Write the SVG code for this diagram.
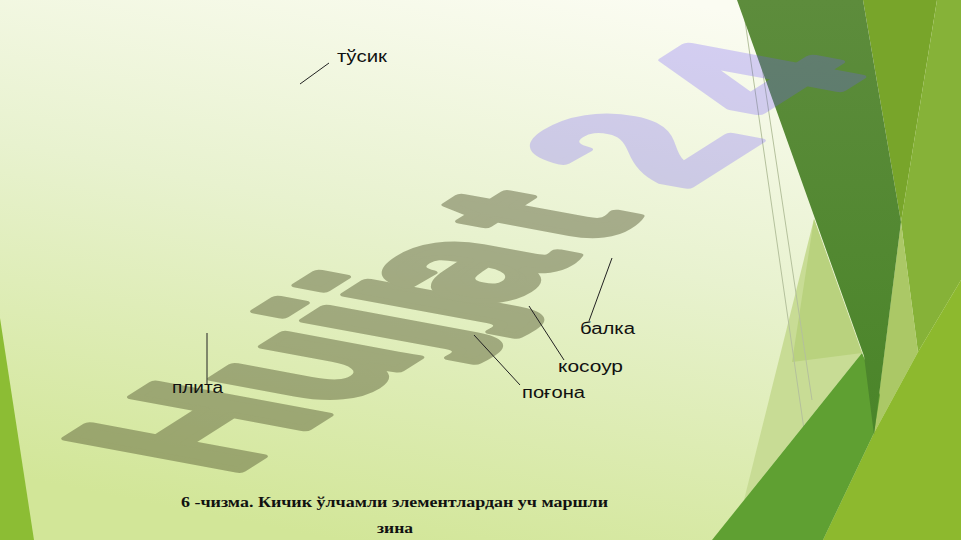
<svg xmlns="http://www.w3.org/2000/svg" width="961" height="540" viewBox="0 0 961 540">
  <defs>
    <linearGradient id="bg" x1="0.7" y1="0" x2="0.35" y2="1">
      <stop offset="0" stop-color="#fbfcf2"/>
      <stop offset="0.45" stop-color="#e8f2cf"/>
      <stop offset="1" stop-color="#d2e698"/>
    </linearGradient>
    <linearGradient id="dark" x1="0" y1="0" x2="0" y2="1">
      <stop offset="0" stop-color="#5d8c3c"/>
      <stop offset="1" stop-color="#4a8529"/>
    </linearGradient>
  </defs>
  <style>
    .lbl { font-family: "Liberation Sans", Arial, sans-serif; font-size: 16px; fill: #111; }
    .cap { font-family: "Liberation Serif", "Times New Roman", serif; font-size: 15px; font-weight: bold; fill: #111; }
    .lead { stroke: #222; stroke-width: 1; fill: none; }
    .thin { stroke: #b4c09c; stroke-width: 1; fill: none; }
    .wm { font-family: "Liberation Sans", Arial, sans-serif; font-size: 100px; font-weight: bold; stroke-width: 5; stroke-linejoin: round; }
    .wm1 { fill: #535731; stroke: #535731; opacity: 0.45; }
    .wm2 { fill: #7258fe; stroke: #7258fe; opacity: 0.27; }
  </style>

  <!-- background -->
  <rect width="961" height="540" fill="url(#bg)"/>

  <!-- decorative facets -->
  <g id="decor">
    <polygon points="0,318 34,540 0,540" fill="#8cbd34"/>
    <polygon points="814,219 862,353 744,500" fill="#c8dc95"/>
    <polygon points="814,219 862,353 792,362" fill="#b9d27e"/>
    <line class="thin" x1="742" y1="0" x2="820" y2="540"/>
    <line class="thin" x1="752" y1="0" x2="812" y2="400"/>
    <polygon points="863,0 937,0 901,222" fill="#78a52a"/>
    <polygon points="937,0 961,0 961,280 918,352 901,222" fill="#86b238"/>
    <polygon points="901,222 918,352 874,433" fill="#abc866"/>
    <polygon points="961,280 961,540 823,540 874,433 918,352" fill="#8db92e"/>
    <polygon points="712,540 823,540 874,433 880,395 862,353" fill="#5fa032"/>
    <polygon points="737,0 863,0 901,222 874,435 864,356" fill="url(#dark)"/>
  </g>

  <!-- watermark -->
  <g id="watermark" transform="matrix(1.481,-0.94,2.486,0.461,229.6,476.6)">
    <text class="wm wm1" x="0" y="0">Hujj<tspan dx="-10">a</tspan><tspan dx="10">t</tspan></text>
    <text class="wm wm2" x="305.6" y="0">2<tspan dx="18">4</tspan></text>
  </g>

  <!-- connectors -->
  <g id="connectors">
    <line class="lead" x1="300" y1="84" x2="329" y2="63"/>
    <line class="lead" x1="612" y1="258" x2="589" y2="321"/>
    <line class="lead" x1="529" y1="306" x2="564" y2="360"/>
    <line class="lead" x1="474" y1="335" x2="520" y2="385"/>
    <line class="lead" x1="207" y1="333" x2="207" y2="384"/>
  </g>

  <!-- labels -->
  <g id="node-tusik"><text class="lbl" x="337" y="62" textLength="50" lengthAdjust="spacingAndGlyphs">тўсик</text></g>
  <g id="node-balka"><text class="lbl" x="580" y="334" textLength="55" lengthAdjust="spacingAndGlyphs">балка</text></g>
  <g id="node-kosour"><text class="lbl" x="558" y="372" textLength="65" lengthAdjust="spacingAndGlyphs">косоур</text></g>
  <g id="node-pogona"><text class="lbl" x="522" y="398" textLength="63" lengthAdjust="spacingAndGlyphs">поғона</text></g>
  <g id="node-plita"><text class="lbl" x="172" y="393" textLength="51" lengthAdjust="spacingAndGlyphs">плита</text></g>

  <!-- caption -->
  <g id="caption">
    <text class="cap" x="181" y="507" textLength="427" lengthAdjust="spacingAndGlyphs">6 -чизма. Кичик ўлчамли элементлардан уч маршли</text>
    <text class="cap" x="377" y="533" textLength="36" lengthAdjust="spacingAndGlyphs">зина</text>
  </g>
</svg>
